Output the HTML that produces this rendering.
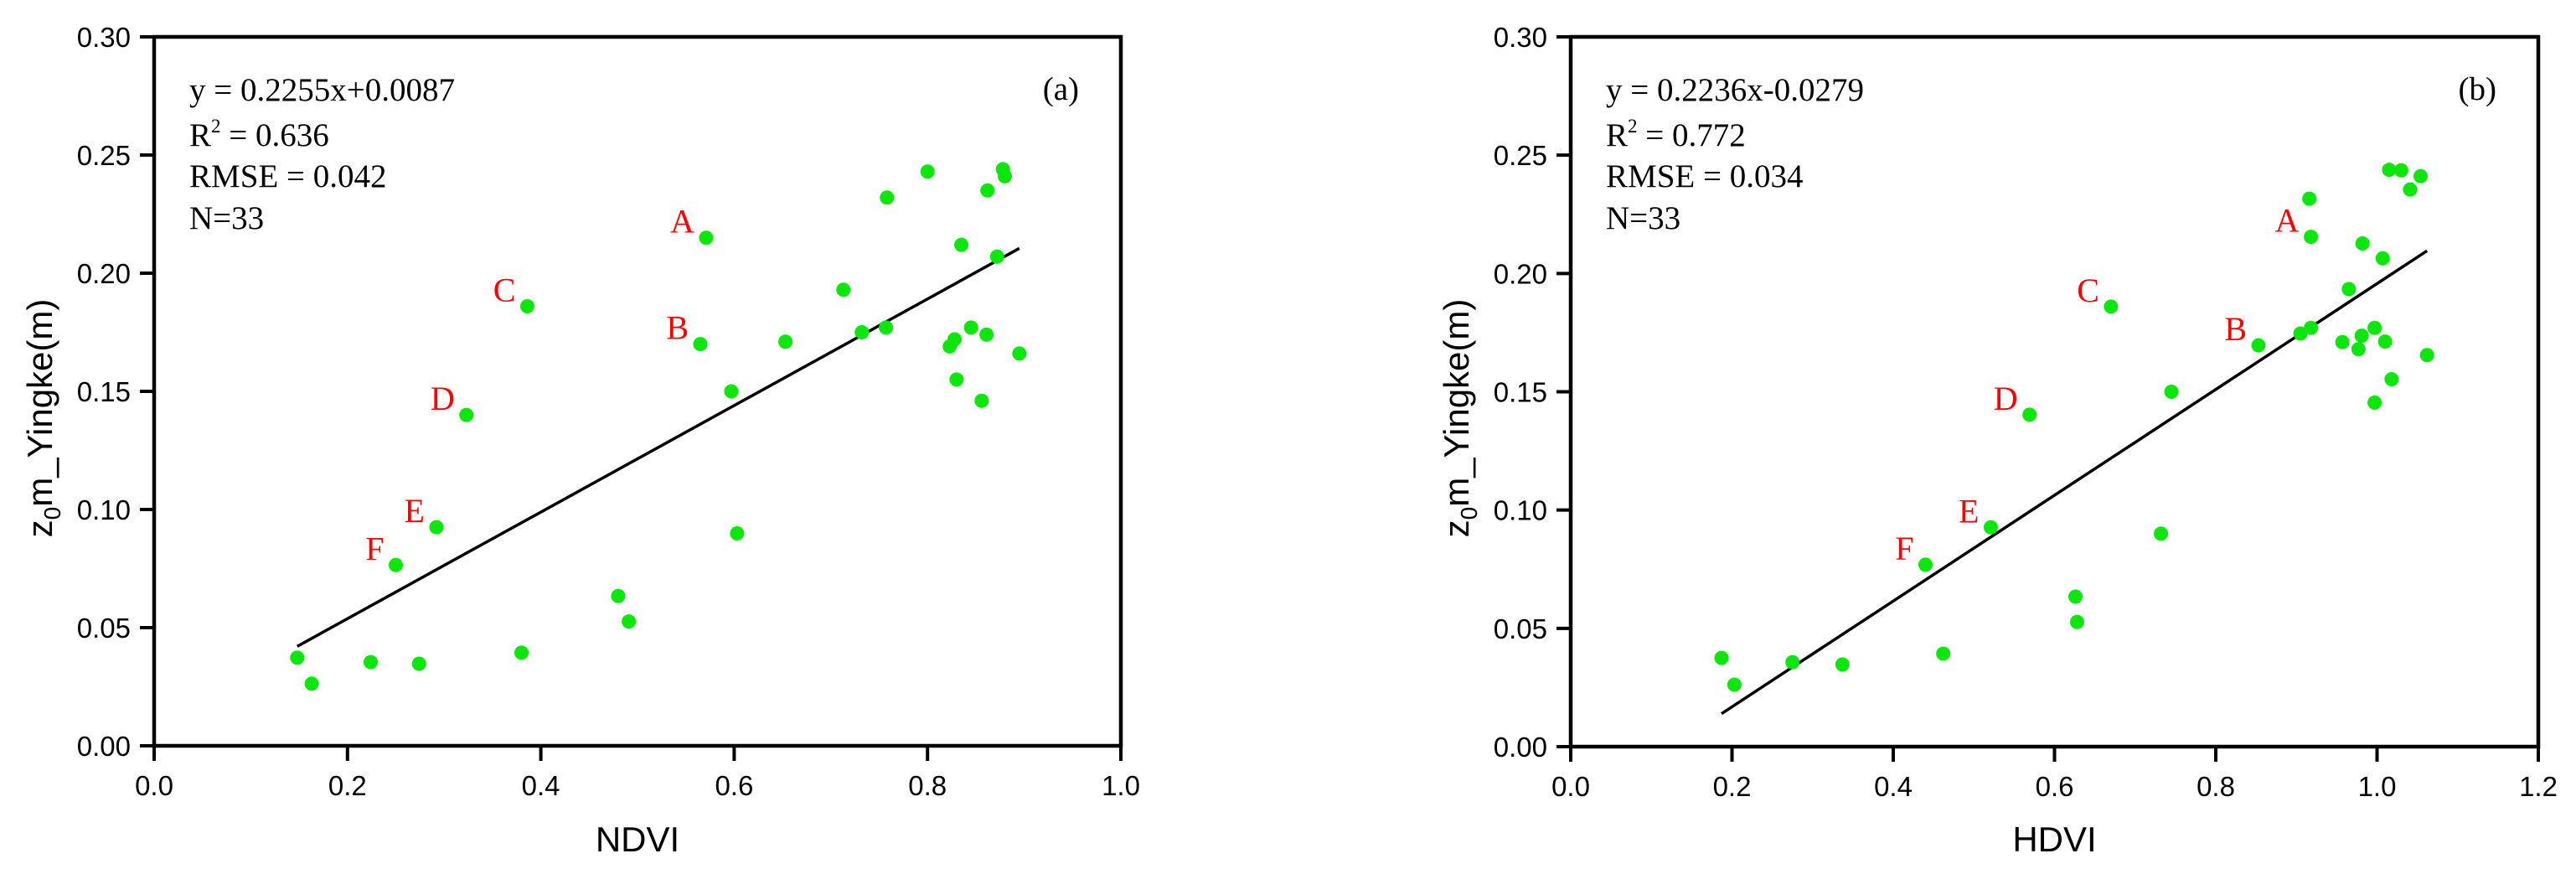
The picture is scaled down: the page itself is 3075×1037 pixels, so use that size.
<!DOCTYPE html>
<html><head><meta charset="utf-8"><style>
html,body{margin:0;padding:0;background:#fff;}
svg{display:block;}
.tk{font-family:"Liberation Sans",Arial,sans-serif;font-size:33px;fill:#000;}
.ti{font-family:"Liberation Sans",Arial,sans-serif;font-size:42px;fill:#000;}
.st{font-family:"Liberation Serif","Times New Roman",serif;font-size:39px;fill:#000;}
.lb{font-family:"Liberation Serif","Times New Roman",serif;font-size:40px;fill:#f00;}
</style></head><body>
<svg id="chart" width="3075" height="1037" viewBox="0 0 3075 1037" xmlns="http://www.w3.org/2000/svg"></svg>
<script>
// Panel (a) data: NDVI vs z0m
const ndviX = [0.148,0.163,0.224,0.274,0.250,0.292,0.323,0.386,0.380,0.480,0.491,0.571,0.565,0.597,0.603,0.653,0.713,0.732,0.757,0.758,0.800,0.835,0.823,0.828,0.830,0.845,0.856,0.861,0.862,0.872,0.878,0.880,0.895];
const ndviY = [0.0373,0.0263,0.0354,0.0347,0.0765,0.0925,0.140,0.186,0.0394,0.0634,0.0526,0.215,0.170,0.150,0.0899,0.171,0.193,0.175,0.177,0.232,0.243,0.212,0.169,0.172,0.155,0.177,0.146,0.174,0.235,0.207,0.244,0.241,0.166];
// Panel (b) data: HDVI vs z0m
const hdviX = [0.187,0.203,0.275,0.337,0.462,0.440,0.521,0.569,0.670,0.626,0.628,0.732,0.745,0.853,0.905,0.918,0.918,0.957,0.965,0.977,0.981,0.982,0.997,0.997,1.007,1.010,1.018,0.916,1.015,1.030,1.054,1.041,1.062];
const hdviY = [0.0375,0.0262,0.0357,0.0347,0.0393,0.0769,0.0927,0.1403,0.186,0.0634,0.0527,0.090,0.150,0.1696,0.1746,0.177,0.2155,0.171,0.1934,0.168,0.1737,0.2127,0.177,0.1454,0.2064,0.1712,0.1553,0.2316,0.2438,0.2436,0.2411,0.2355,0.1655];
// point labels (index into series)
const labelsA = ["A","B","C","D","E","F"];
const labelIdxA = [11,12,7,6,5,4];
const labelIdxB = [16,13,8,7,6,5];
// tick labels
const yTicks = [0.00,0.05,0.10,0.15,0.20,0.25,0.30];
const xTicksA = [0.0,0.2,0.4,0.6,0.8,1.0];
const xTicksB = [0.0,0.2,0.4,0.6,0.8,1.0,1.2];
// regression
const fitA = [0.2255,0.0087];
const fitB = [0.2236,-0.0279];
const statsA = ["y = 0.2255x+0.0087","0.636","RMSE = 0.042","N=33","(a)","NDVI"];
const statsB = ["y = 0.2236x-0.0279","0.772","RMSE = 0.034","N=33","(b)","HDVI"];

const NS="http://www.w3.org/2000/svg";
const svg=document.getElementById('chart');
function mk(tag,attrs,parent,text){const e=document.createElementNS(NS,tag);for(const k in attrs)e.setAttribute(k,attrs[k]);if(text!==undefined)e.textContent=text;(parent||svg).appendChild(e);return e;}

function panel(id,L,R,T,B,xmax,xs,ys,xt,labIdx,fit,stats,ylabX){
  const g=mk('g',{});
  
  
  const sx=v=>L+(v/xmax)*(R-L);
  const sy=v=>B-(v/0.30)*(B-T);
  const fr=mk('rect',{x:L,y:T,width:R-L,height:B-T,fill:'none',stroke:'#000','stroke-width':4.5},g);
  
  
  yTicks.forEach(v=>{
    const t=mk('line',{x1:L-17,x2:L,y1:sy(v),y2:sy(v),stroke:'#000','stroke-width':4},g);
    
    
    const tx=mk('text',{x:L-28,y:sy(v)+12,'text-anchor':'end',class:'tk'},g,v.toFixed(2));
    
    
  });
  xt.forEach(v=>{
    const t=mk('line',{x1:sx(v),x2:sx(v),y1:B,y2:B+18,stroke:'#000','stroke-width':4},g);
    
    
    const tx=mk('text',{x:sx(v),y:B+59,'text-anchor':'middle',class:'tk'},g,v.toFixed(1));
    
    
  });
  const x0=Math.min(...xs),x1=Math.max(...xs);
  const ln=mk('line',{x1:sx(x0),y1:sy(fit[0]*x0+fit[1]),x2:sx(x1),y2:sy(fit[0]*x1+fit[1]),stroke:'#000','stroke-width':3.5},g);
  
  
  xs.forEach((v,i)=>{
    const c=mk('circle',{cx:sx(v),cy:sy(ys[i]),r:8.5,fill:'#0be60b'},g);
    
    
  });
  labIdx.forEach((k,j)=>{
    const t=mk('text',{x:sx(xs[k])-14,y:sy(ys[k])-6,'text-anchor':'end',class:'lb'},g,labelsA[j]);
    
    
  });
  const tx0=L+42;
  const s1=mk('text',{x:tx0,y:120,class:'st'},g,stats[0]);
  
  
  const s2=mk('text',{x:tx0,y:174,class:'st'},g);
  
  
  mk('tspan',{},s2,'R');
  mk('tspan',{dy:-16,'font-size':'23px'},s2,'2');
  mk('tspan',{dy:16},s2,' = '+stats[1]);
  const s3=mk('text',{x:tx0,y:223,class:'st'},g,stats[2]);
  
  
  const s4=mk('text',{x:tx0,y:273,class:'st'},g,stats[3]);
  
  
  const pl=mk('text',{x:R-50,y:119,'text-anchor':'end',class:'st'},g,stats[4]);
  
  
  const xtl=mk('text',{x:(L+R)/2,y:1016,'text-anchor':'middle',class:'ti'},g,stats[5]);
  
  
  const yt=mk('text',{x:0,y:0,'text-anchor':'middle',class:'ti',transform:'translate('+ylabX+',499) rotate(-90)'},g);
  
  
  mk('tspan',{},yt,'z');
  mk('tspan',{dy:10,'font-size':'28px'},yt,'0');
  mk('tspan',{dy:-10},yt,'m_Yingke(m)');
}
panel('a',184,1338,44,890,1.0,ndviX,ndviY,xTicksA,labelIdxA,fitA,statsA,62);
panel('b',1875,3030,44,891,1.2,hdviX,hdviY,xTicksB,labelIdxB,fitB,statsB,1753);
</script>
</body></html>
